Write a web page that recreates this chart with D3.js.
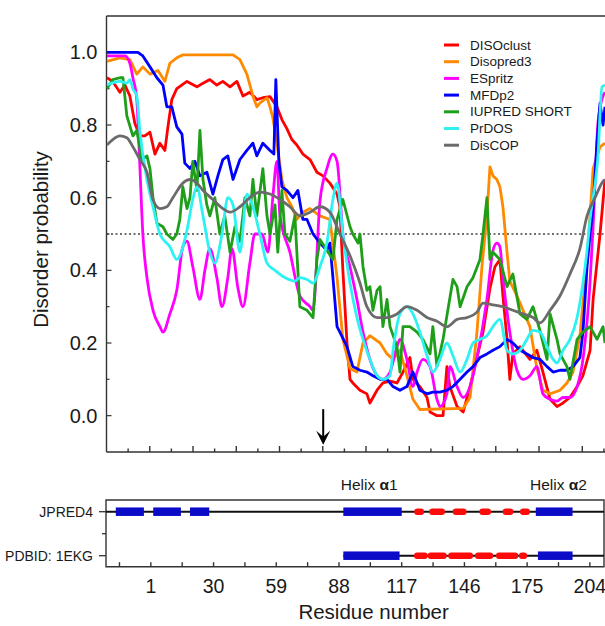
<!DOCTYPE html>
<html lang="en">

<head>
    <meta charset="UTF-8">
    <title>Disorder probability per residue</title>
    <script src="https://cdn.jsdelivr.net/npm/d3@7"></script>
    <style>
        body { margin: 0; background: #fff; }
        svg text { font-family: "Liberation Sans", Arial, Helvetica, sans-serif; fill: #1a1a1a; }
    </style>
</head>

<body>
    <svg width="605" height="626"></svg>

    <script>
        // ---- data: [residue, disorder probability] ----
        const seriesNames = ["DISOclust", "Disopred3", "ESpritz", "MFDp2", "IUPRED SHORT", "PrDOS", "DisCOP"];
        const seriesColors = ["#ff0000", "#ff8a00", "#ff00ff", "#0000ff", "#1f9e1a", "#2ef2f2", "#6b6b6b"];
        // predictors drawn as smooth curves in the figure
        const smoothSeries = ["ESpritz", "PrDOS", "DisCOP"];

        const disoclust = [[-19.3, .93], [-16.6, .92], [-13.3, .89], [-11, .91], [-8.7, .88], [-6.4, .805], [-4.1, .77], [-1.8, .77], [0.6, .78], [2.9, .72], [5.2, .75], [7.5, .73], [8.9, .795], [10.7, .87], [13, .9], [17.7, .92], [22.3, .905], [25.1, .915], [28.3, .925], [31.5, .91], [34.3, .92], [37.6, .905], [40.8, .92], [43.6, .88], [46.8, .89], [50, .87], [52.8, .875], [56.1, .878], [59.3, .85], [61.6, .815], [63.9, .79], [66.2, .76], [68.5, .745], [71.3, .72], [74.6, .705], [77.8, .67], [80.6, .66], [83.8, .64], [87.1, .61], [88.4, .575], [89.8, .4], [91.7, .2], [93.1, .1], [94.4, .09], [97.7, .07], [100.9, .06], [102.3, .035], [105.6, .07], [108.3, .09], [111.6, .095], [114.8, .09], [117.6, .12], [120.8, .16], [122.2, .1], [125.4, .08], [128.7, .05], [130.1, .01], [133.3, 0], [136.1, 0], [137.9, .135], [139.3, .08], [142.6, .025], [145.4, .01], [148.6, .08], [151.8, .16], [154.6, .23], [157.8, .35], [160.1, .41], [162.4, .43], [163.8, .33], [165.7, .21], [167, .1], [168.4, .17], [171.7, .19], [176.3, .155], [179.5, .18], [182.3, .12], [185.6, .045], [188.8, .025], [191.6, .035], [194.8, .05], [198.1, .08], [200.8, .11], [204.1, .18], [205.5, .32], [208.7, .5], [211, .65]];

        const disopred3 = [[-19.3, .975], [-13.3, .985], [-8.7, .98], [-5.5, .94], [-2.7, .96], [0.6, .94], [4.3, .95], [7.5, .92], [9.8, .97], [13, .985], [15.8, .993], [39, .993], [42.2, .98], [45.4, .94], [48.2, .88], [50, .85], [51.4, .86], [54.7, .875], [56.1, .85], [57.4, .82], [59.3, .75], [61.6, .65], [63.9, .6], [66.2, .575], [68.5, .54], [71.3, .56], [74.6, .57], [79.2, .55], [83.8, .54], [87.1, .38], [89.8, .21], [93.1, .13], [96.3, .12], [99.1, .2], [102.3, .22], [107, .2], [110.2, .17], [113, .155], [116.2, .18], [119.4, .11], [122.2, .045], [125.4, .017], [145.4, .02], [148.6, .05], [151.8, .23], [154.1, .41], [156.4, .55], [157.8, .685], [159.2, .66], [161, .65], [162.4, .63], [163.8, .575], [165.7, .45], [167, .37], [170.3, .33], [173.1, .29], [176.3, .245], [179.5, .13], [182.3, .07], [185.6, .06], [190.2, .07], [193.4, .09], [196.2, .12], [199.4, .22], [202.7, .43], [205.5, .68], [208.7, .74], [211, .75]];

        const espritz = [[-19.3, .99], [-11, .99], [-8.7, .97], [-7.3, .93], [-5.5, .87], [-4.1, .69], [-2.7, .5], [-0.8, .38], [2, .29], [5.2, .245], [6.6, .23], [9.8, .28], [13, .345], [15.8, .465], [17.7, .48], [20.4, .41], [23.7, .32], [26, .4], [28.3, .46], [31.5, .38], [33.9, .3], [36.6, .38], [38.5, .46], [41.3, .35], [43.6, .3], [46.8, .42], [49.1, .5], [52.4, .5], [55.1, .45], [57.4, .6], [59.3, .7], [60.7, .55], [65.3, .45], [69.9, .33], [74.6, .3], [76, .29], [79.2, .59], [82.4, .68], [85.2, .72], [87.1, .7], [89.8, .5], [93.1, .41], [96.3, .32], [99.1, .23], [102.3, .155], [105.6, .11], [108.3, .1], [111.6, .12], [114.8, .19], [116.2, .21], [119.4, .155], [122.2, .08], [124.1, .12], [126.8, .155], [130.1, .135], [133.3, .045], [134.7, .025], [137.9, .06], [139.3, .135], [142.6, .08], [145.4, .05], [148.6, .08], [151.8, .16], [156.4, .32], [159.2, .455], [161, .475], [162.4, .465], [163.8, .38], [167, .23], [170.3, .125], [173.1, .1], [176.3, .11], [179.5, .135], [182.3, .06], [185.6, .045], [188.8, .04], [191.6, .05], [194.8, .05], [198.1, .08], [200.8, .155], [204.1, .37], [205.5, .52], [207.8, .81], [210.1, .88], [211, .89]];

        const mfdp2 = [[-19.3, 1], [-5, 1], [-2.7, .99], [0.6, .96], [3.8, .93], [6.6, .91], [8.4, .85], [10.7, .85], [13, .795], [15.4, .775], [16.7, .695], [19.1, .68], [21.4, .7], [23.7, .66], [26.9, .67], [29.7, .61], [32, .66], [34.3, .705], [36.6, .715], [39, .65], [42.2, .705], [45.4, .73], [48.2, .75], [50, .715], [52.8, .75], [56.1, .73], [57.9, .72], [58.8, .925], [60.2, .7], [61.6, .63], [63.9, .62], [66.7, .6], [69, .62], [71.3, .54], [73.2, .54], [76, .5], [79.2, .475], [82.4, .455], [83.8, .475], [85.2, .38], [87.1, .245], [88.4, .23], [91.7, .19], [94.4, .135], [97.7, .125], [100.9, .12], [103.7, .11], [107, .1], [110.2, .1], [113, .08], [116.2, .07], [119.4, .08], [122.2, .12], [125.4, .07], [128.7, .06], [131.4, .065], [134.7, .065], [137.9, .07], [140.7, .08], [144, .1], [147.2, .12], [150, .135], [153.2, .16], [156.4, .17], [159.2, .18], [162.4, .19], [165.7, .21], [168.4, .2], [171.7, .18], [174.9, .17], [177.7, .16], [180.9, .155], [184.2, .135], [187, .12], [190.2, .125], [193.4, .125], [196.2, .135], [199.4, .16], [200.8, .23], [202.7, .41], [204.1, .5], [205.5, .575], [207.3, .75], [208.7, .86], [210.1, .8], [211, .85]];

        const iupredShort = [[-19.3, .9], [-16.6, .925], [-13.3, .93], [-11.9, .93], [-10.1, .825], [-7.3, .77], [-5.5, .785], [-3.1, .705], [-0.8, .715], [0.6, .68], [2, .6], [3.8, .53], [6.6, .52], [8.4, .5], [11.2, .485], [13, .5], [14.4, .54], [15.8, .63], [17.7, .57], [19.1, .6], [20.4, .7], [22.3, .62], [23.7, .785], [25.1, .65], [26.9, .58], [28.3, .55], [30.6, .6], [32.9, .5], [35.2, .55], [37.6, .45], [39.9, .52], [42.2, .48], [44.5, .6], [46.8, .55], [48.2, .65], [50, .55], [52.8, .68], [54.7, .55], [56.1, .5], [58.4, .58], [59.7, .45], [61.6, .62], [63, .5], [65.3, .48], [67.6, .55], [69.9, .3], [73.2, .29], [76, .27], [77.8, .43], [79.2, .485], [82.4, .455], [85.2, .43], [87.1, .54], [89.8, .595], [93.1, .52], [94.4, .5], [96.8, .475], [97.7, .5], [99.1, .41], [100.9, .345], [102.3, .355], [103.7, .29], [105.6, .345], [107, .355], [108.3, .245], [110.2, .32], [111.6, .245], [114.8, .19], [116.2, .12], [117.6, .245], [120.8, .245], [124.1, .23], [126.8, .21], [130.1, .17], [131.4, .245], [133.3, .135], [136.1, .21], [137.9, .275], [140.7, .375], [142.6, .355], [144, .3], [147.2, .355], [150, .38], [153.2, .43], [154.6, .5], [156.4, .6], [157.8, .43], [159.2, .45], [162.4, .43], [165.7, .355], [168.4, .39], [171.7, .28], [174.9, .265], [177.7, .3], [180.9, .235], [184.2, .155], [185.6, .28], [188.8, .21], [190.2, .17], [193.4, .135], [194.8, .1], [198.1, .21], [200.8, .23], [204.1, .245], [207.3, .21], [210.1, .245], [211, .2]];

        const prdos = [[-19.3, .91], [-13.3, .92], [-10.1, .915], [-8.7, .925], [-7.3, .9], [-5.5, .88], [-4.1, .785], [-0.8, .65], [2, .575], [5.2, .5], [9.8, .465], [13, .43], [14.4, .44], [17.7, .51], [20.4, .595], [22.3, .63], [25.1, .55], [28.3, .45], [30.6, .42], [33.9, .5], [36.6, .6], [39, .58], [42.2, .45], [45.4, .61], [48.2, .575], [51.4, .5], [54.7, .42], [58.4, .4], [63, .38], [67.6, .37], [69.9, .38], [73.2, .375], [76, .365], [79.2, .41], [82.4, .475], [85.2, .595], [87.1, .64], [89.8, .5], [93.1, .365], [96.3, .27], [99.1, .21], [102.3, .155], [105.6, .11], [108.3, .1], [111.6, .11], [113, .18], [116.2, .28], [119.4, .3], [122.2, .28], [125.4, .23], [128.7, .165], [131.4, .12], [134.7, .155], [137.9, .2], [140.7, .165], [144, .12], [147.2, .155], [150, .2], [153.2, .21], [156.4, .22], [159.2, .245], [162.4, .265], [165.7, .18], [168.4, .17], [171.7, .18], [174.9, .21], [177.7, .235], [180.9, .23], [184.2, .19], [187, .155], [188.8, .145], [191.6, .18], [194.8, .21], [198.1, .27], [200.8, .365], [202.7, .455], [204.1, .54], [207.8, .72], [209.6, .905], [211, .91]];

        const discop = [[-19.3, .745], [-16.6, .76], [-13.3, .77], [-10.1, .765], [-7.3, .74], [-4.1, .705], [-0.8, .67], [2, .594], [5.2, .57], [8.4, .575], [11.2, .6], [15.8, .64], [19.1, .65], [22.3, .64], [25.1, .62], [29.7, .595], [34.3, .57], [37.6, .56], [42.2, .575], [46.8, .6], [51.4, .615], [56.1, .61], [60.7, .595], [65.3, .575], [69.9, .55], [74.6, .56], [79.2, .575], [83.8, .56], [88.4, .5], [93.1, .44], [97.7, .365], [100.9, .3], [105.6, .27], [110.2, .27], [114.8, .28], [119.4, .3], [124.1, .29], [128.7, .27], [133.3, .26], [137.9, .245], [142.6, .265], [147.2, .27], [151.8, .285], [154.6, .31], [159.2, .305], [163.8, .3], [168.4, .29], [173.1, .28], [177.7, .27], [180.9, .255], [185.6, .29], [190.2, .33], [194.8, .39], [199.4, .46], [202.7, .55], [206.4, .6], [210.1, .645], [211, .65]];

        const allSeries = [disoclust, disopred3, espritz, mfdp2, iupredShort, prdos, discop];

        // y-axis tick labels and threshold
        const probTicks = [0.0, 0.2, 0.4, 0.6, 0.8, 1.0];
        const threshold = 0.5;
        const arrowResidue = 80.7;

        // secondary structure tracks: [start, end] residues
        const trackNames = ["JPRED4", "PDBID: 1EKG"];
        const jpredHelix = [[-15.2, -2.2], [2.1, 14.9], [19.1, 28], [90, 117], [179, 196]];
        const jpredStrand = [[122.8, 127.3], [129.7, 137], [140.6, 147], [152.9, 158.3], [163.7, 168.6], [171.7, 176.3]];
        const pdbHelix = [[90, 116], [180, 196]];
        const pdbStrand = [[122.7, 129], [129, 137.8], [138.5, 150], [150.9, 159.3], [160.6, 170.9], [171.2, 175]];
        const pdbStart = 90;
        const helixLabels = [["Helix ", "\u03b1", "1", 102], ["Helix ", "\u03b1", "2", 189.5]];
        const residueLabels = [1, 30, 59, 88, 117, 146, 175, 204];
        const residueMinor = [-13.5, 15.5, 44.5, 73.5, 102.5, 131.5, 160.5, 189.5];

        const svg = d3.select("svg");
        const frameColor = "#333";

        const x = d3.scaleLinear().domain([-19.5, 211]).range([106.5, 605]);
        const y = d3.scaleLinear().domain([-0.1, 1.1]).range([452, 16]);
        const track = d3.scalePoint().domain(trackNames).range([511.7, 555.7]);
        const panelTop = 500, panelBottom = 566.7;

        function drawFrame() {
            const left = x.range()[0];
            svg.append("path")
                .attr("d", `M${left},${y.range()[0]}V${y.range()[1]}M${left},${y.range()[1]}H610M${left},${y.range()[0]}H610`)
                .attr("fill", "none").attr("stroke", frameColor).attr("stroke-width", 1.4);

            // y ticks, inward
            d3.range(0, 1.01, 0.1).forEach((v, i) => {
                svg.append("line")
                    .attr("x1", left).attr("x2", left + (i % 2 === 0 ? 5 : 3))
                    .attr("y1", y(v)).attr("y2", y(v))
                    .attr("stroke", frameColor).attr("stroke-width", 1.2);
            });
            svg.selectAll(".ylab").data(probTicks).enter().append("text")
                .attr("x", left - 9).attr("y", d => y(d))
                .attr("text-anchor", "end").attr("dominant-baseline", "central")
                .style("font-size", "20px")
                .text(d => d.toFixed(1));

            // x ticks, inward
            d3.range(-9.5, 211, 10).forEach((r, i) => {
                svg.append("line")
                    .attr("x1", x(r)).attr("x2", x(r))
                    .attr("y1", y.range()[0]).attr("y2", y.range()[0] - (i % 2 === 1 ? 6 : 3.5))
                    .attr("stroke", frameColor).attr("stroke-width", 1.4);
            });

            svg.append("text")
                .attr("transform", `translate(40,${y(0.485)}) rotate(-90)`)
                .attr("text-anchor", "middle").attr("dominant-baseline", "central")
                .style("font-size", "20.5px")
                .text("Disorder probability");

            svg.append("line")
                .attr("x1", left).attr("x2", 605)
                .attr("y1", y(threshold)).attr("y2", y(threshold))
                .attr("stroke", "#444").attr("stroke-width", 1.5)
                .attr("stroke-dasharray", "2,2.5");
        }

        function drawSeries() {
            svg.append("clipPath").attr("id", "plotClip")
                .append("rect").attr("x", x.range()[0]).attr("y", y.range()[1])
                .attr("width", 605 - x.range()[0]).attr("height", y.range()[0] - y.range()[1]);

            const line = d3.line().x(d => x(d[0])).y(d => y(d[1]));
            const smooth = d3.line().x(d => x(d[0])).y(d => y(d[1])).curve(d3.curveMonotoneX);

            allSeries.forEach((s, i) => {
                svg.append("path")
                    .datum(s)
                    .attr("clip-path", "url(#plotClip)")
                    .attr("fill", "none")
                    .attr("stroke", seriesColors[i])
                    .attr("stroke-width", 2.8)
                    .attr("stroke-linejoin", "round")
                    .attr("d", smoothSeries.includes(seriesNames[i]) ? smooth : line);
            });
        }

        function drawLegend() {
            const lx = 444, ly = 45, step = 16.7;
            seriesNames.forEach((name, i) => {
                svg.append("line")
                    .attr("x1", lx).attr("x2", lx + 15)
                    .attr("y1", ly + i * step).attr("y2", ly + i * step)
                    .attr("stroke", seriesColors[i]).attr("stroke-width", 3);
                svg.append("text")
                    .attr("x", lx + 26).attr("y", ly + i * step)
                    .attr("dominant-baseline", "central")
                    .style("font-size", "13.5px")
                    .text(name);
            });
        }

        function drawArrow() {
            const ax = x(arrowResidue), top = y(0.018), tip = y(-0.08);
            svg.append("line")
                .attr("x1", ax).attr("x2", ax).attr("y1", top).attr("y2", tip - 3)
                .attr("stroke", "#000").attr("stroke-width", 2);
            svg.append("path")
                .attr("d", `M${ax - 7},${tip - 14}L${ax},${tip}L${ax + 7},${tip - 14}L${ax},${tip - 8}Z`)
                .attr("fill", "#000");
        }

        function drawTracks() {
            const left = x.range()[0] - 0.5;
            svg.append("path")
                .attr("d", `M${left},${panelTop}H604V${panelBottom}H${left}Z`)
                .attr("fill", "none").attr("stroke", frameColor).attr("stroke-width", 1.4);

            // track base lines
            svg.append("line")
                .attr("x1", left).attr("x2", 604)
                .attr("y1", track("JPRED4")).attr("y2", track("JPRED4"))
                .attr("stroke", "#111").attr("stroke-width", 2);
            svg.append("line")
                .attr("x1", x(pdbStart)).attr("x2", 604)
                .attr("y1", track("PDBID: 1EKG")).attr("y2", track("PDBID: 1EKG"))
                .attr("stroke", "#111").attr("stroke-width", 2);

            function blocks(list, name, color, h, rx) {
                list.forEach(b => {
                    svg.append("rect")
                        .attr("x", x(b[0])).attr("width", x(b[1]) - x(b[0]))
                        .attr("y", track(name) - h / 2).attr("height", h)
                        .attr("rx", rx)
                        .attr("fill", color);
                });
            }
            blocks(jpredHelix, "JPRED4", "#0b0bc8", 8.5, 0);
            blocks(pdbHelix, "PDBID: 1EKG", "#0b0bc8", 8.5, 0);
            blocks(jpredStrand, "JPRED4", "#ff0a0a", 6.5, 3);
            blocks(pdbStrand, "PDBID: 1EKG", "#ff0a0a", 6.5, 3);

            // y ticks (outward)
            [track("JPRED4"), (track("JPRED4") + track("PDBID: 1EKG")) / 2, track("PDBID: 1EKG")].forEach((ty, i) => {
                svg.append("line")
                    .attr("x1", left).attr("x2", left - (i === 1 ? 4 : 7))
                    .attr("y1", ty).attr("y2", ty)
                    .attr("stroke", frameColor).attr("stroke-width", 1.3);
            });
            trackNames.forEach(n => {
                svg.append("text")
                    .attr("x", left - 13).attr("y", track(n))
                    .attr("text-anchor", "end").attr("dominant-baseline", "central")
                    .style("font-size", "14px")
                    .text(n);
            });

            // x ticks (inward) and labels
            residueLabels.concat(residueMinor).forEach(r => {
                svg.append("line")
                    .attr("x1", x(r)).attr("x2", x(r))
                    .attr("y1", panelBottom).attr("y2", panelBottom - 4.5)
                    .attr("stroke", frameColor).attr("stroke-width", 1.4);
            });
            svg.selectAll(".rlab").data(residueLabels).enter().append("text")
                .attr("x", d => x(d)).attr("y", 593)
                .attr("text-anchor", "middle")
                .style("font-size", "19.5px")
                .text(d => d);

            svg.append("text")
                .attr("x", x(104)).attr("y", 619)
                .attr("text-anchor", "middle")
                .style("font-size", "20.5px")
                .text("Residue number");

            helixLabels.forEach(h => {
                const t = svg.append("text")
                    .attr("x", x(h[3])).attr("y", 490)
                    .attr("text-anchor", "middle")
                    .style("font-size", "15.5px");
                t.append("tspan").text(h[0]);
                t.append("tspan").style("font-weight", "bold").text(h[1]);
                t.append("tspan").text(h[2]);
            });
        }

        drawFrame();
        drawSeries();
        drawLegend();
        drawArrow();
        drawTracks();
    </script>
</body>

</html>
